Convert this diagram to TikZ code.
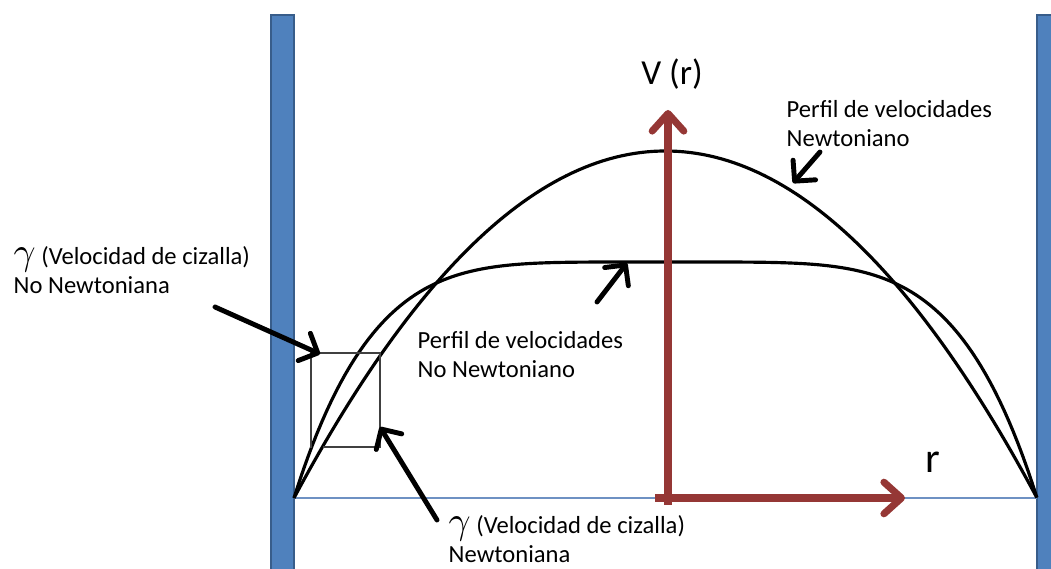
\documentclass[tikz,border=0pt]{standalone}
\usepackage{fontspec}
\setmainfont{Carlito}
\usetikzlibrary{arrows.meta}
\definecolor{wallblue}{RGB}{79,129,189}
\definecolor{walledge}{RGB}{56,93,138}
\definecolor{axisred}{RGB}{149,55,53}
\definecolor{baseblue}{RGB}{110,145,195}

\begin{document}
\begin{tikzpicture}[
    wall/.style={fill=wallblue, draw=walledge, line width=0.6pt},
    profile/.style={black, line width=0.9pt},
    axisarrow/.style={axisred, line width=2pt, -{Straight Barb[length=5pt,width=9pt,round]}},
    pointer/.style={black, line width=1.4pt, line cap=round, -{Straight Barb[length=4.2pt,width=8.5pt,round]}},
    lbl/.style={font=\fontsize{7}{8.5}\selectfont, align=left, inner sep=0pt, anchor=base west},
]
    \useasboundingbox (0,0) rectangle (10.51,5.69);

    % Pipe walls
    \draw[wall] (2.71,-0.1) rectangle (2.94,5.54);
    \draw[wall] (10.37,-0.1) rectangle (10.60,5.54);

    % Centre line of the pipe (r axis)
    \coordinate (L) at (2.94,0.71);
    \coordinate (R) at (10.37,0.71);
    \draw[baseblue, line width=0.8pt] (L) -- (R);

    % Newtonian profile: parabola, peak 3.47 above the wall
    \draw[profile] plot[domain=-1:1, samples=121] ({6.655+3.715*\x}, {0.71+3.47*(1-(\x)*(\x))});
    % Non Newtonian profile: flatter, power 5
    \draw[profile] plot[domain=-1:1, samples=161] ({6.655+3.715*\x}, {0.71+2.36*(1-abs(\x)^5)});

    % Shear rate box near the wall
    \coordinate (B1) at (3.11,1.21);
    \coordinate (B2) at (3.11,2.16);
    \coordinate (B3) at (3.80,2.16);
    \coordinate (B4) at (3.80,1.22);
    \coordinate (B5) at (3.23,1.22);
    \draw[black!75, line width=0.6pt] (B1) -- (B2) -- (B3) -- (B4) -- (B5);

    % Axes V(r) and r
    \coordinate (O) at (6.68,0.64);
    \coordinate (Vtop) at (6.68,4.59);
    \coordinate (Ostart) at (6.55,0.71);
    \coordinate (Rtip) at (9.05,0.71);
    \draw[axisarrow] (O) -- (Vtop);
    \draw[axisarrow] (Ostart) -- (Rtip);
    \node[font=\fontsize{10}{12}\selectfont, anchor=base, inner sep=0pt] (Vlbl) at (6.72,4.84) {V (r)};
    \node[font=\fontsize{12}{14}\selectfont, anchor=base west, inner sep=0pt] (rlbl) at (9.25,0.96) {r};

    % Labels (anchored on the baseline of the last line)
    \node[lbl] (perfN) at (7.86,4.22) {Perfil de velocidades\\Newtoniano};
    \node[lbl] (perfNN) at (4.17,1.91) {Perfil de velocidades\\No Newtoniano};
    \node[lbl] (cizNN) at (0.13,2.75) {{\fontsize{11}{11}\selectfont$\gamma$} (Velocidad de cizalla)\\No Newtoniana};
    \node[lbl] (cizN) at (4.48,0.06) {{\fontsize{11}{11}\selectfont$\gamma$} (Velocidad de cizalla)\\Newtoniana};

    % Pointers
    \coordinate (p1a) at (2.15,2.62);
    \coordinate (p1b) at (3.20,2.15);
    \coordinate (p2a) at (4.37,0.49);
    \coordinate (p2b) at (3.80,1.42);
    \coordinate (p3a) at (8.20,4.17);
    \coordinate (p3b) at (7.93,3.86);
    \coordinate (p4a) at (5.97,2.67);
    \coordinate (p4b) at (6.27,3.06);
    \draw[pointer] (p1a) -- (p1b);
    \draw[pointer] (p2a) -- (p2b);
    \draw[pointer] (p3a) -- (p3b);
    \draw[pointer] (p4a) -- (p4b);
\end{tikzpicture}
\end{document}
